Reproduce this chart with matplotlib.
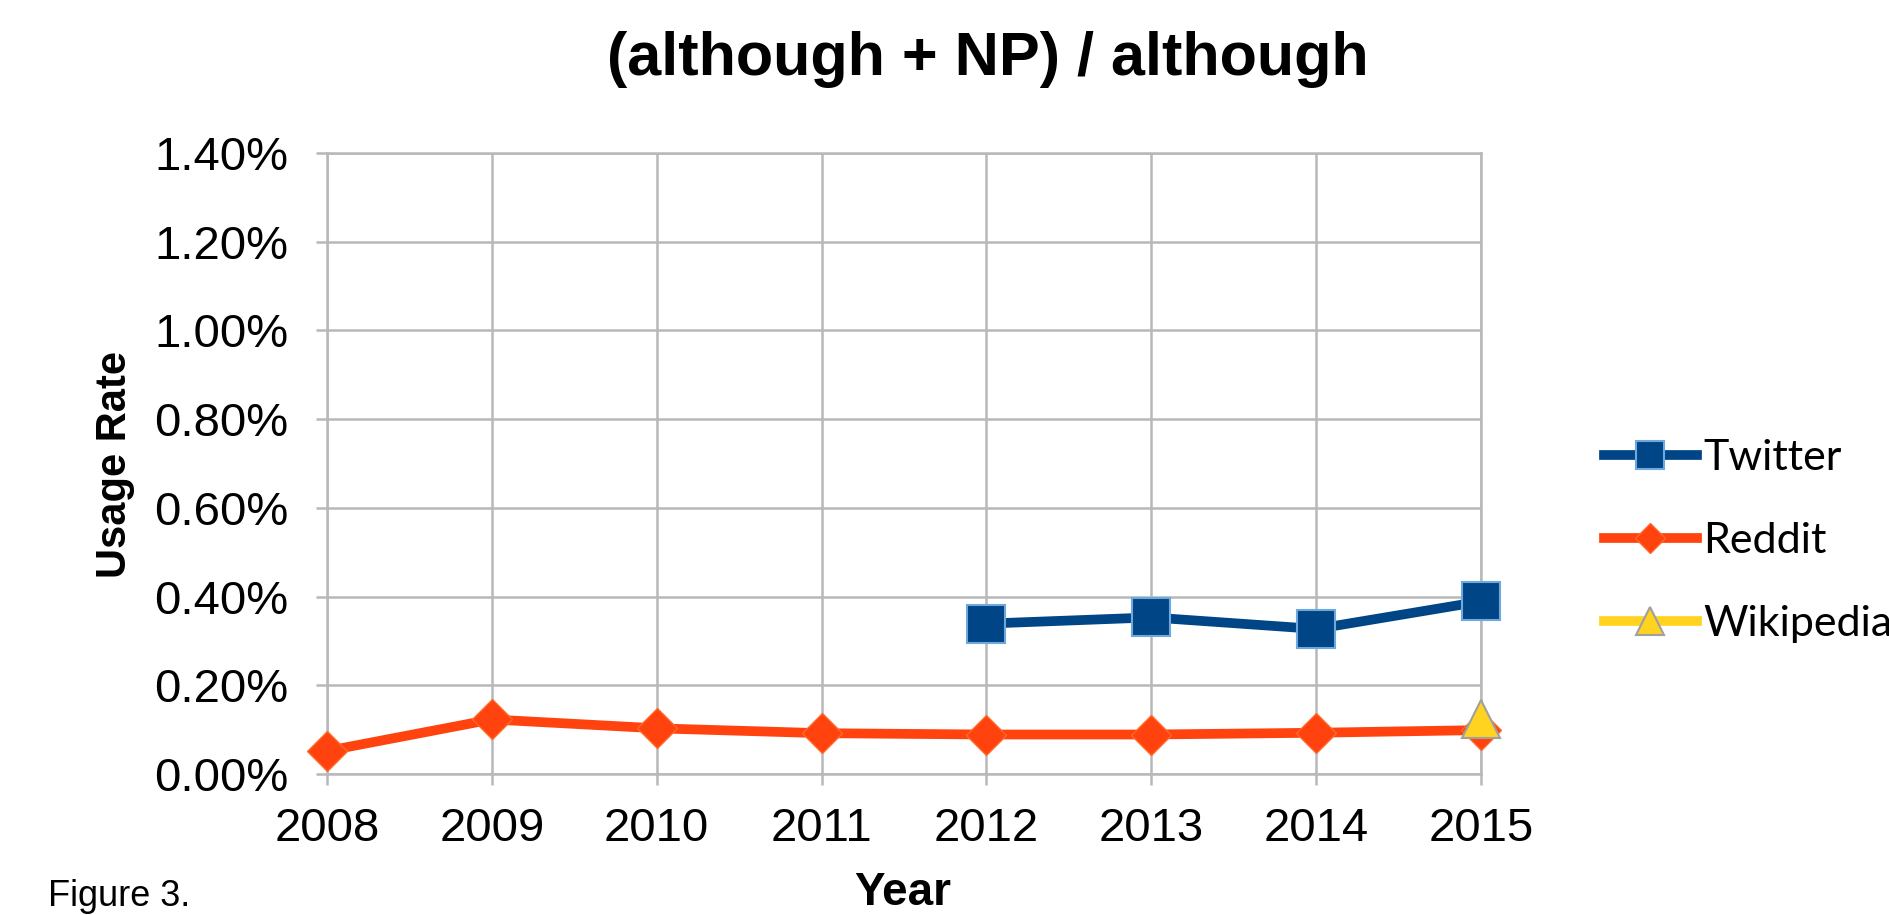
import matplotlib
matplotlib.use("Agg")
import matplotlib.pyplot as plt
from matplotlib.ticker import FuncFormatter

plt.rcParams['font.family'] = ['Liberation Sans', 'DejaVu Sans']

years = [2008, 2009, 2010, 2011, 2012, 2013, 2014, 2015]
twitter_years = [2012, 2013, 2014, 2015]
twitter = [0.339, 0.353, 0.327, 0.389]
reddit = [0.052, 0.123, 0.103, 0.092, 0.089, 0.089, 0.093, 0.099]
wiki_years = [2015]
wikipedia = [0.124]
yticks = [0.0, 0.2, 0.4, 0.6, 0.8, 1.0, 1.2, 1.4]

twitter_color = "#004586"
reddit_color = "#ff420e"
wiki_color = "#ffd320"
grid_color = "#b8b8b8"

fig = plt.figure(figsize=(18.9, 9.15), dpi=100)
ax = fig.add_axes([327/1890, 1-774/915, 1154/1890, 621/915])

ax.plot(years, reddit, color=reddit_color, lw=7, marker="D", ms=20,
        markeredgecolor="#ff6a2a", markeredgewidth=1, clip_on=False, zorder=3,
        label="Reddit")
ax.plot(twitter_years, twitter, color=twitter_color, lw=7, marker="s", ms=27,
        markeredgecolor="#6fa8dc", markeredgewidth=1.5, clip_on=False, zorder=4,
        label="Twitter")
ax.plot(wiki_years, wikipedia, color=wiki_color, lw=7, marker="^", ms=27,
        markeredgecolor="#a0a0a0", markeredgewidth=1.5, clip_on=False, zorder=5,
        label="Wikipedia")

ax.set_xlim(2008, 2015)
ax.set_ylim(0, 1.4)
ax.set_xticks(years)
ax.set_yticks(yticks)
ax.yaxis.set_major_formatter(FuncFormatter(lambda v, p: "%.2f%%" % v))
ax.grid(True, color=grid_color, lw=1.8)
ax.set_axisbelow(True)
for s in ax.spines.values():
    s.set_color(grid_color)
    s.set_linewidth(1.8)
ax.tick_params(axis='both', colors=grid_color, length=8, width=1.8,
               labelcolor="black", labelsize=34)
ax.tick_params(axis='y', pad=20)
ax.tick_params(axis='x', pad=16)

fig.text(988/1890, 1-60/915, "(although + NP) / although", ha="center", va="center",
         fontsize=44, fontweight="bold")
fig.text(115/1890, 1-464/915, "Usage Rate", rotation=90, ha="center", va="center",
         fontsize=30, fontweight="bold")
fig.text(903/1890, 1-893/915, "Year", ha="center", va="center",
         fontsize=33, fontweight="bold")
fig.text(48/1890, 1-906/915, "Figure 3.", ha="left", va="baseline", fontsize=26)

handles, labels = ax.get_legend_handles_labels()
order = [1, 0, 2]
fig.legend([handles[i] for i in order], [labels[i] for i in order],
           loc="center left", bbox_to_anchor=(1604/1890, 1-541/915),
           frameon=False, handlelength=2.15, handletextpad=0.15, labelspacing=1.05,
           borderaxespad=0, borderpad=0, markerscale=0.75,
           prop={'family': ['Lato', 'DejaVu Sans'], 'size': 31})

fig.savefig("out.png", dpi=100)
